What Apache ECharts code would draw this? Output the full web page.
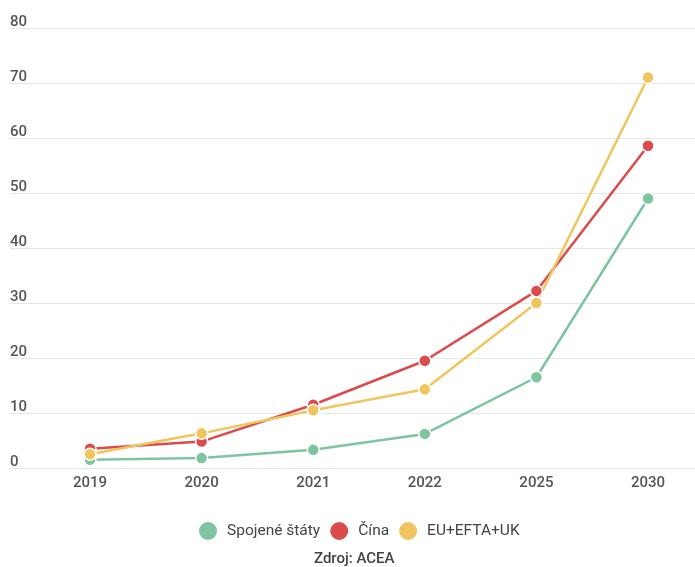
<!DOCTYPE html>
<html>
<head>
<meta charset="utf-8">
<script src="https://cdn.jsdelivr.net/npm/echarts@6/dist/echarts.min.js"></script>
<style>
html,body{margin:0;padding:0;background:#fff;}
#c{width:695px;height:567px;}
</style>
</head>
<body>
<div id="c"></div>
<script>
const categories = ['2019','2020','2021','2022','2025','2030'];
const usa = [1.5, 1.8, 3.3, 6.2, 16.5, 49.0];
const china = [3.5, 4.8, 11.5, 19.5, 32.2, 58.6];
const europe = [2.5, 6.3, 10.5, 14.3, 30.0, 71.0];
const yTicks = [0,10,20,30,40,50,60,70,80];

const toPairs = arr => arr.map((v,i)=>[i,v]);
const font = 'Roboto, "Noto Sans", sans-serif';

const chart = echarts.init(document.getElementById('c'));
const mk = (name, data, color) => ({
  name, type:'line', data: toPairs(data),
  symbol:'circle', symbolSize:12,
  lineStyle:{width:2.5, color},
  itemStyle:{color, borderColor:'#fff', borderWidth:1.5},
  emphasis:{disabled:true}
});
chart.setOption({
  animation:false,
  grid:{left:10, right:0, top:28, bottom:99},
  xAxis:{
    type:'value', min:-0.717, max:5.421,
    axisLine:{show:false}, axisTick:{show:false}, splitLine:{show:false},
    axisLabel:{customValues:[0,1,2,3,4,5], formatter:v=>categories[Math.round(v)],
      color:'#555', fontSize:15, fontFamily:font, fontWeight:500, margin:8}
  },
  yAxis:{
    type:'value', min:0, max:80, interval:10,
    axisLine:{show:false}, axisTick:{show:false},
    splitLine:{lineStyle:{color:'#e6e6e6', width:1}},
    axisLabel:{inside:true, verticalAlign:'bottom', margin:0, padding:0, lineHeight:12,
      color:'#555', fontSize:15, fontFamily:font, fontWeight:500,
      formatter:v=> yTicks.includes(v) ? String(v) : ''}
  },
  legend:{
    data:['Spojené štáty','Čína','EU+EFTA+UK'],
    icon:'circle', itemWidth:20, itemHeight:20, itemGap:8, padding:0,
    top:520, left:197,
    textStyle:{color:'#444', fontSize:15.5, fontFamily:font, padding:[0,0,0,4]}
  },
  title:{text:'Zdroj: ACEA', left:309, top:547,
    textStyle:{color:'#444', fontSize:15, fontWeight:500, fontFamily:font}},
  series:[
    mk('Spojené štáty', usa, '#7dc4a0'),
    mk('Čína', china, '#dc4b4b'),
    mk('EU+EFTA+UK', europe, '#f0c55e')
  ]
});
</script>
</body>
</html>
